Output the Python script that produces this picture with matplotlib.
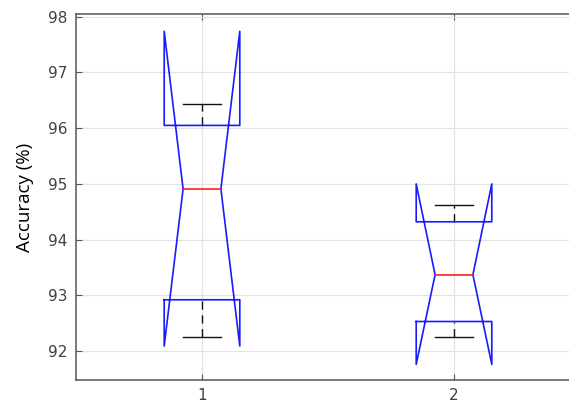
import matplotlib

matplotlib.use("Agg")
import matplotlib.pyplot as plt

# Notched box summary per model (accuracy, %)
positions = [1, 2]
q1 = [92.92, 92.53]
q3 = [96.05, 94.32]
medians = [94.91, 93.37]
notch_lo = [92.09, 91.76]
notch_hi = [97.74, 95.00]
whisk_lo = [92.25, 92.25]
whisk_hi = [96.43, 94.63]
xtick_labels = ["1", "2"]
yticks = [92, 93, 94, 95, 96, 97, 98]

BOX_HALF = 0.15
NOTCH_HALF = 0.075
CAP_HALF = 0.075

fig = plt.figure(figsize=(5.69, 4.03), dpi=100)
ax = fig.add_axes([76 / 569, 23 / 403, 504 / 569, 366 / 403])

for x, a, b, m, nlo, nhi, wlo, whi in zip(
    positions, q1, q3, medians, notch_lo, notch_hi, whisk_lo, whisk_hi
):
    left, right = x - BOX_HALF, x + BOX_HALF
    cl, cr = x - NOTCH_HALF, x + NOTCH_HALF
    xs = [left, left, cl, left, left, right, right, cr, right, right, left]
    ys = [a, nlo, m, nhi, b, b, nhi, m, nlo, a, a]
    ax.plot(xs, ys, color="#1a1aff", lw=1.2, zorder=3)
    ax.plot([cl, cr], [m, m], color="#ff2020", lw=1.2, zorder=4)
    # whiskers
    ax.plot([x, x], [b, whi], color="#111111", lw=1.0, ls=(0, (6, 4)), zorder=2)
    ax.plot([x, x], [wlo, a], color="#111111", lw=1.0, ls=(0, (6, 4)), zorder=2)
    ax.plot([x - CAP_HALF, x + CAP_HALF], [whi, whi], color="#111111", lw=1.0, zorder=2)
    ax.plot([x - CAP_HALF, x + CAP_HALF], [wlo, wlo], color="#111111", lw=1.0, zorder=2)

ax.set_xlim(0.5, 2.5)
ax.set_ylim(91.48, 98.05)
ax.set_xticks(positions)
ax.set_xticklabels(xtick_labels)
ax.set_yticks(yticks)
ax.grid(True, color="#e3e3e3", lw=0.9)
ax.set_axisbelow(True)
for side in ["left", "bottom", "top", "right"]:
    ax.spines[side].set_color("#555555")
    ax.spines[side].set_linewidth(1.1)
ax.tick_params(direction="in", length=4, width=0.8, colors="#555555",
               labelcolor="#404040", labelsize=11, pad=6,
               top=True, right=True)
ax.set_ylabel("Accuracy (%)", fontsize=13.5, family="Open Sans", color="black",
              labelpad=10)

fig.savefig("out.png", dpi=100)
